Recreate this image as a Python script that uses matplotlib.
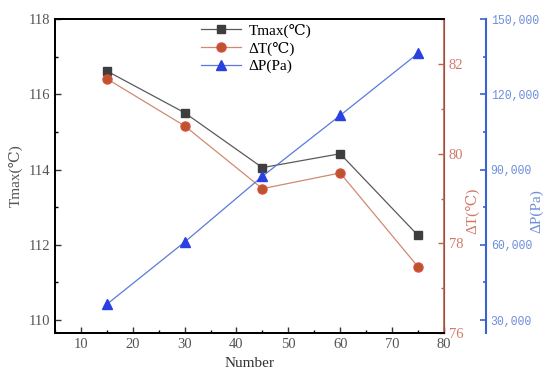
import matplotlib.pyplot as plt
from matplotlib.ticker import MultipleLocator, FuncFormatter

# 数据
number = [15, 30, 45, 60, 75]
tmax = [116.62, 115.51, 114.05, 114.42, 112.25]
delta_t = [81.67, 80.62, 79.22, 79.57, 77.48]
delta_p = [36300, 61100, 87300, 111600, 136300]

plt.rcParams['font.family'] = ['Liberation Serif', 'DejaVu Serif', 'Noto Sans CJK SC']
plt.rcParams['font.size'] = 10

red = '#c0604a'
red_txt = '#d27a68'
blue = '#3a62d0'
blue_txt = '#6f8fdc'

fig = plt.figure(figsize=(5.5, 3.82), dpi=100)
ax1 = fig.add_axes([0.1, 0.128, 0.707, 0.822])
ax2 = ax1.twinx()
ax3 = ax1.twinx()
ax3.spines['right'].set_position(('axes', 1.108))

l1, = ax1.plot(number, tmax, color='#5a5a5a', lw=0.9, marker='s', ms=5.5,
               mfc='#3e3e3e', mec='#3e3e3e', label='Tmax(℃)')
l2, = ax2.plot(number, delta_t, color='#d08a70', lw=0.9, marker='o', ms=6.5,
               mfc='#b8562e', mec='#e04a3a', label='ΔT(℃)')
l3, = ax3.plot(number, delta_p, color='#5a7ad8', lw=0.9, marker='^', ms=7,
               mfc='#2a40e0', mec='#2a40e0', label='ΔP(Pa)')

ax1.set_xlim(5, 80)
ax1.set_ylim(109.65, 118)
ax2.set_ylim(76, 83)
ax3.set_ylim(24800, 150000)

ax1.xaxis.set_major_locator(MultipleLocator(10))
ax1.xaxis.set_minor_locator(MultipleLocator(5))
ax1.yaxis.set_major_locator(MultipleLocator(2))
ax1.yaxis.set_minor_locator(MultipleLocator(1))
ax2.yaxis.set_major_locator(MultipleLocator(2))
ax2.yaxis.set_minor_locator(MultipleLocator(1))
ax3.yaxis.set_major_locator(MultipleLocator(30000))
ax3.yaxis.set_minor_locator(MultipleLocator(15000))
ax3.yaxis.set_major_formatter(FuncFormatter(lambda v, p: f'{int(v):,}'))

ax1.tick_params(axis='both', which='major', direction='in', length=4, width=1,
                colors='#333333', labelcolor='#555555', labelsize=10.5)
ax1.tick_params(axis='both', which='minor', direction='in', length=2.5, width=1)
ax1.tick_params(axis='y', right=False)

ax2.tick_params(axis='y', which='major', direction='in', length=4, width=1,
                colors=red, labelcolor=red_txt, labelsize=10.5)
ax2.tick_params(axis='y', which='minor', direction='in', length=2.5, width=1, colors=red)
ax2.spines['right'].set_color(red)

ax3.tick_params(axis='y', which='major', direction='in', length=4, width=1.2,
                colors=blue, labelcolor=blue_txt)
ax3.tick_params(axis='y', which='minor', direction='in', length=2.5, width=1.2, colors=blue)
ax3.spines['right'].set_color(blue)
ax3.spines['right'].set_linewidth(1.5)
for lab in ax3.get_yticklabels():
    lab.set_family(['Liberation Mono', 'DejaVu Sans Mono'])
    lab.set_fontsize(8.3)

for ax in (ax1, ax2, ax3):
    ax.spines['top'].set_linewidth(1.2)
    ax.spines['left'].set_linewidth(1.2)
    ax.spines['bottom'].set_linewidth(1.2)
ax2.spines['right'].set_linewidth(1.2)

ax1.set_xlabel('Number', fontsize=11, color='#333333', labelpad=4)
ax1.set_ylabel('Tmax(℃)', fontsize=11, color='#555555')
ax2.set_ylabel('ΔT(℃)', fontsize=11, color=red_txt)
ax3.set_ylabel('ΔP(Pa)', fontsize=11, color=blue_txt)
ax1.yaxis.set_label_coords(-0.082, 0.5)
ax2.yaxis.set_label_coords(1.054, 0.39)
ax3.yaxis.set_label_coords(1.222, 0.39)

ax3.legend(handles=[l1, l2, l3], loc='upper left', bbox_to_anchor=(0.34, 1.03),
           frameon=False, fontsize=11, handlelength=2.6, labelspacing=0.25,
           handletextpad=0.5)

plt.savefig('out.png', dpi=100)
